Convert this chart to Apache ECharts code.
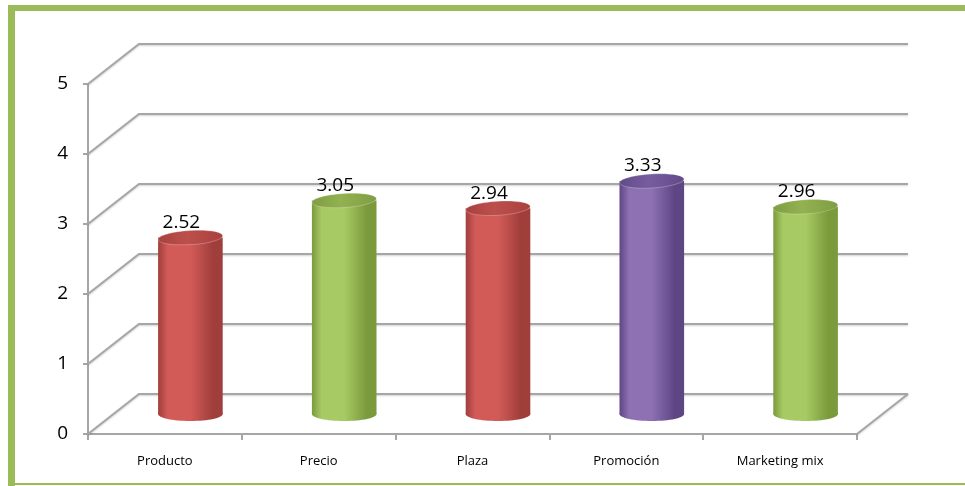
<!DOCTYPE html>
<html>
<head>
<meta charset="utf-8">
<script src="https://cdn.jsdelivr.net/npm/echarts@6/dist/echarts.min.js"></script>
<style>html,body{margin:0;padding:0;background:#fff}#c{width:965px;height:486px}</style>
</head>
<body>
<div id="c"></div>
<script>
const categories = ['Producto', 'Precio', 'Plaza', 'Promoción', 'Marketing mix'];
const values = [2.52, 3.05, 2.94, 3.33, 2.96];
const yTicks = [0, 1, 2, 3, 4, 5];

// styles (kept apart from data)
const palette = [
  {edge: '#a03e3b', mid: '#d25b58', top: '#a9413e', topMid: '#bc4f4c'},
  {edge: '#7a9a3c', mid: '#a8ca64', top: '#7f9d42', topMid: '#92b251'},
  {edge: '#a03e3b', mid: '#d25b58', top: '#a9413e', topMid: '#bc4f4c'},
  {edge: '#5e4685', mid: '#8d71b2', top: '#624a89', topMid: '#775d9e'},
  {edge: '#7a9a3c', mid: '#a8ca64', top: '#7f9d42', topMid: '#92b251'}
];
const DEPTH_X = 51, DEPTH_Y = -40;
const GRID_COLOR = '#a6a6a6';

const chart = echarts.init(document.getElementById('c'), null, {renderer: 'canvas'});

function lineStyle() {
  return {stroke: GRID_COLOR, lineWidth: 2, fill: null,
          shadowBlur: 2, shadowColor: 'rgba(0,0,0,0.18)', shadowOffsetY: 1};
}

const option = {
  backgroundColor: '#ffffff',
  animation: false,
  grid: {left: 88, right: 108, top: 84, bottom: 52, containLabel: false},
  xAxis: {
    type: 'category',
    data: categories,
    axisLine: {show: true, lineStyle: {color: GRID_COLOR, width: 2}},
    axisTick: {show: true, length: 6, lineStyle: {color: GRID_COLOR, width: 2}},
    axisLabel: {fontFamily: 'Open Sans', fontSize: 13, color: '#000', margin: 21},
    splitLine: {show: false}
  },
  yAxis: {
    type: 'value',
    min: 0, max: 5, interval: 1,
    axisLine: {show: true, lineStyle: {color: GRID_COLOR, width: 2}},
    axisTick: {show: true, length: 5, lineStyle: {color: GRID_COLOR, width: 2}},
    axisLabel: {fontFamily: 'Open Sans', fontSize: 19, color: '#000', margin: 20,
                padding: [4, 0, 0, 0]},
    splitLine: {show: false}
  },
  graphic: [
    {type: 'line', z: 100, shape: {x1: 8, y1: 8, x2: 965, y2: 8}, style: {stroke: '#9bbb59', lineWidth: 6}},
    {type: 'line', z: 100, shape: {x1: 11.5, y1: 5, x2: 11.5, y2: 486}, style: {stroke: '#9bbb59', lineWidth: 7}},
    {type: 'line', z: 100, shape: {x1: 8, y1: 484, x2: 965, y2: 484}, style: {stroke: '#9bbb59', lineWidth: 2}}
  ],
  series: [
    {
      type: 'custom',
      name: 'walls',
      clip: false,
      silent: true,
      z: 1,
      data: yTicks.map(v => [0, v]),
      encode: {x: 0, y: 1},
      renderItem: function (params, api) {
        const cs = params.coordSys;
        const x0 = cs.x, w = cs.width;
        const y = api.coord([0, api.value(1)])[1];
        const children = [{
          type: 'polyline',
          shape: {points: [[x0, y], [x0 + DEPTH_X, y + DEPTH_Y], [x0 + w + DEPTH_X, y + DEPTH_Y]]},
          style: lineStyle()
        }];
        if (api.value(1) === 0) {
          children.push({
            type: 'line',
            shape: {x1: x0 + w, y1: y, x2: x0 + w + DEPTH_X, y2: y + DEPTH_Y},
            style: lineStyle()
          });
        }
        return {type: 'group', children: children};
      }
    },
    {
      type: 'custom',
      name: 'cylinders',
      clip: false,
      z: 5,
      data: values.map((v, i) => [i, v]),
      encode: {x: 0, y: 1},
      renderItem: function (params, api) {
        const i = api.value(0), v = api.value(1);
        const base = api.coord([i, 0]);
        const topP = api.coord([i, v]);
        const bw = api.size([1, 0])[0];
        const cx = base[0] + DEPTH_X / 2;
        const yb = base[1] + DEPTH_Y / 2;
        const yt = topP[1] + DEPTH_Y / 2;
        const rx = bw * 0.21, ry = 7;
        const p = palette[i];
        const bodyGrad = () => new echarts.graphic.LinearGradient(0, 0, 1, 0, [
          {offset: 0, color: p.edge},
          {offset: 0.15, color: p.mid},
          {offset: 0.5, color: p.mid},
          {offset: 0.85, color: p.edge},
          {offset: 1, color: p.edge}
        ]);
        const topGrad = new echarts.graphic.LinearGradient(0, 0, 1, 0, [
          {offset: 0, color: p.top},
          {offset: 0.45, color: p.topMid},
          {offset: 1, color: p.top}
        ]);
        return {
          type: 'group',
          children: [
            {type: 'ellipse', shape: {cx: cx, cy: yb, rx: rx, ry: ry}, style: {fill: bodyGrad()}},
            {type: 'rect', shape: {x: cx - rx, y: yt, width: rx * 2, height: yb - yt}, style: {fill: bodyGrad()}},
            {type: 'ellipse', shape: {cx: cx, cy: yt, rx: rx, ry: ry}, rotation: 0.06, originX: cx, originY: yt,
             style: {fill: topGrad, stroke: 'rgba(255,255,255,0.25)', lineWidth: 1}},
            {type: 'text', x: cx - 9, y: yt - 15,
             style: {text: String(v.toFixed(2)), fontFamily: 'Open Sans', fontSize: 19, fill: '#000',
                     align: 'center', verticalAlign: 'middle'}}
          ]
        };
      }
    }
  ]
};
chart.setOption(option);
</script>
</body>
</html>
